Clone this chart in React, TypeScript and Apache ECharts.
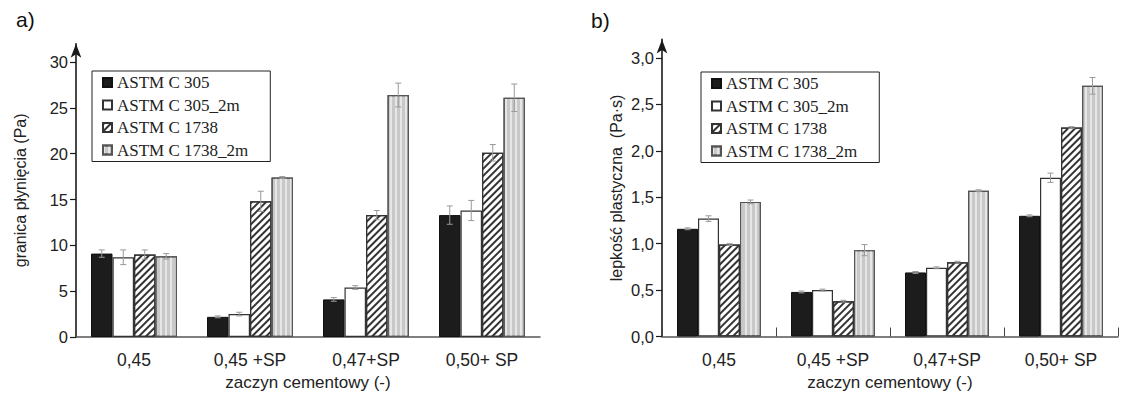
import React, { useEffect, useRef } from "react";
import * as echarts from "echarts";

const categories = ["0,45", "0,45 +SP", "0,47+SP", "0,50+ SP"];
const seriesNames = ["ASTM C 305", "ASTM C 305_2m", "ASTM C 1738", "ASTM C 1738_2m"];

// a) granica płynięcia (Pa)
const yieldC305 = [9.1, 2.2, 4.1, 13.3];
const yieldC305_2m = [8.7, 2.5, 5.4, 13.8];
const yieldC1738 = [9.0, 14.8, 13.3, 20.1];
const yieldC1738_2m = [8.8, 17.4, 26.4, 26.1];
const yieldErrC305 = [0.4, 0.1, 0.2, 1.0];
const yieldErrC305_2m = [0.8, 0.2, 0.2, 1.1];
const yieldErrC1738 = [0.5, 1.1, 0.5, 0.9];
const yieldErrC1738_2m = [0.3, 0.1, 1.3, 1.5];

// b) lepkość plastyczna (Pa·s)
const viscC305 = [1.16, 0.48, 0.69, 1.3];
const viscC305_2m = [1.27, 0.5, 0.74, 1.71];
const viscC1738 = [0.99, 0.38, 0.8, 2.25];
const viscC1738_2m = [1.45, 0.93, 1.57, 2.7];
const viscErrC305 = [0.01, 0.01, 0.01, 0.01];
const viscErrC305_2m = [0.03, 0.01, 0.01, 0.05];
const viscErrC1738 = [0.01, 0.01, 0.01, 0.01];
const viscErrC1738_2m = [0.02, 0.06, 0.01, 0.09];

const yieldTicks = [0, 5, 10, 15, 20, 25, 30];
const viscTicks = [0, 0.5, 1, 1.5, 2, 2.5, 3];

const SANS = "'Liberation Sans', Arial, sans-serif";
const SERIF = "'Liberation Serif', 'Times New Roman', serif";

const hatchDecal = {
  symbol: "rect",
  symbolSize: 1,
  color: "#333333",
  dashArrayX: [1, 0],
  dashArrayY: [1.4, 3],
  rotation: -Math.PI / 4,
};
const stripeDecal = {
  symbol: "rect",
  symbolSize: 1,
  color: "rgba(255,255,255,0.55)",
  dashArrayX: [2, 3],
  dashArrayY: [1, 0],
  rotation: 0,
};

const styles = [
  { color: "#1c1c1c", borderColor: "#111", borderWidth: 1 },
  { color: "#ffffff", borderColor: "#333", borderWidth: 1.2 },
  { color: "#ffffff", borderColor: "#333", borderWidth: 1.2, decal: hatchDecal },
  { color: "#c8c8c8", borderColor: "#555", borderWidth: 1.2, decal: stripeDecal },
];

export default function App() {
  const ref = useRef<HTMLDivElement>(null);
  useEffect(() => {
    if (!ref.current) return;
    const chart = echarts.init(ref.current, undefined, { renderer: "svg" });

    const yieldVals = [yieldC305, yieldC305_2m, yieldC1738, yieldC1738_2m];
    const yieldErrs = [yieldErrC305, yieldErrC305_2m, yieldErrC1738, yieldErrC1738_2m];
    const viscVals = [viscC305, viscC305_2m, viscC1738, viscC1738_2m];
    const viscErrs = [viscErrC305, viscErrC305_2m, viscErrC1738, viscErrC1738_2m];

    const barWidths = [21.5, 21];

    const makeSeries = (vals: number[][], errs: number[][], axis: number) => {
      const out: any[] = [];
      vals.forEach((v, k) => {
        out.push({
          type: "bar",
          name: seriesNames[k],
          xAxisIndex: axis,
          yAxisIndex: axis,
          barWidth: barWidths[axis],
          barGap: "0%",
          itemStyle: styles[k],
          emphasis: { disabled: true },
          data: v,
        });
      });
      vals.forEach((v, k) => {
        const bw = barWidths[axis];
        out.push({
          type: "custom",
          name: seriesNames[k],
          xAxisIndex: axis,
          yAxisIndex: axis,
          z: 5,
          encode: { x: 0, y: 1 },
          data: v.map((val, i) => [i, val, errs[k][i]]),
          renderItem: (params: any, api: any) => {
            const ci = api.value(0);
            const val = api.value(1);
            const e = api.value(2);
            const top = api.coord([ci, val + e]);
            const bot = api.coord([ci, val - e]);
            const x = top[0] + (k - 1.5) * bw;
            const st = { stroke: "#999999", lineWidth: 1 };
            return {
              type: "group",
              children: [
                { type: "line", shape: { x1: x, y1: top[1], x2: x, y2: bot[1] }, style: st },
                { type: "line", shape: { x1: x - 3, y1: top[1], x2: x + 3, y2: top[1] }, style: st },
                { type: "line", shape: { x1: x - 3, y1: bot[1], x2: x + 3, y2: bot[1] }, style: st },
              ],
            };
          },
        });
      });
      return out;
    };

    const yAxisCommon = (ticks: number[], max: number, fmt: (v: number) => string, gridIndex: number, name: string, nameGap: number) => ({
      type: "value",
      gridIndex,
      min: 0,
      max,
      name,
      nameLocation: "middle",
      nameGap,
      nameTextStyle: { fontFamily: SANS, fontSize: 16, color: "#222" },
      axisLine: {
        show: true,
        symbol: ["none", "arrow"],
        symbolSize: [8, 14],
        lineStyle: { color: "#1a1a1a", width: 1.6 },
      },
      axisTick: { show: true, length: 6, customValues: ticks, lineStyle: { color: "#1a1a1a", width: 1.2 } },
      axisLabel: {
        customValues: ticks,
        margin: 8,
        fontFamily: SANS,
        fontSize: 16.5,
        color: "#222",
        formatter: fmt,
      },
      splitLine: { show: false },
    });

    const xAxisCommon = (gridIndex: number, showTick: boolean) => ({
      type: "category",
      gridIndex,
      data: categories,
      name: "zaczyn cementowy (-)",
      nameLocation: "middle",
      nameGap: 37,
      nameTextStyle: { fontFamily: SANS, fontSize: 17, color: "#222" },
      axisLine: { lineStyle: { color: "#555", width: 1.5 } },
      axisTick: { show: showTick, inside: true, length: 9, lineStyle: { color: "#444" } },
      axisLabel: { fontFamily: SANS, fontSize: 17.5, color: "#222", margin: 14 },
      splitLine: { show: false },
    });

    const legendCommon = (left: number, top: number) => ({
      orient: "vertical",
      left,
      top,
      data: seriesNames.map((n) => ({ name: n, icon: "rect" })),
      itemWidth: 9,
      itemHeight: 9,
      itemGap: 5.5,
      padding: [3, 22, 3, 10],
      borderColor: "#222",
      borderWidth: 1,
      selectedMode: false,
      textStyle: { fontFamily: SERIF, fontSize: 17, color: "#222" },
    });

    chart.setOption({
      animation: false,
      backgroundColor: "#ffffff",
      title: [
        { text: "a)", left: 16, top: 9, padding: 0, textStyle: { fontFamily: SANS, fontSize: 21, fontWeight: "normal", color: "#111" } },
        { text: "b)", left: 591, top: 10, padding: 0, textStyle: { fontFamily: SANS, fontSize: 21, fontWeight: "normal", color: "#111" } },
      ],
      grid: [
        { left: 76, top: 43.7, width: 464, height: 293.3 },
        { left: 662, top: 39.4, width: 456, height: 297.1 },
      ],
      legend: [legendCommon(92, 71), legendCommon(701, 72)],
      xAxis: [xAxisCommon(0, false), xAxisCommon(1, true)],
      yAxis: [
        yAxisCommon(yieldTicks, 32, (v: number) => String(v), 0, "granica płynięcia (Pa)", 48),
        yAxisCommon(viscTicks, 3.2, (v: number) => v.toFixed(1).replace(".", ","), 1, "lepkość plastyczna  (Pa·s)", 38),
      ],
      series: [...makeSeries(yieldVals, yieldErrs, 0), ...makeSeries(viscVals, viscErrs, 1)],
    });
    return () => chart.dispose();
  }, []);
  return <div ref={ref} style={{ position: "absolute", left: 0, top: 0, width: 1136, height: 397 }} />;
}
